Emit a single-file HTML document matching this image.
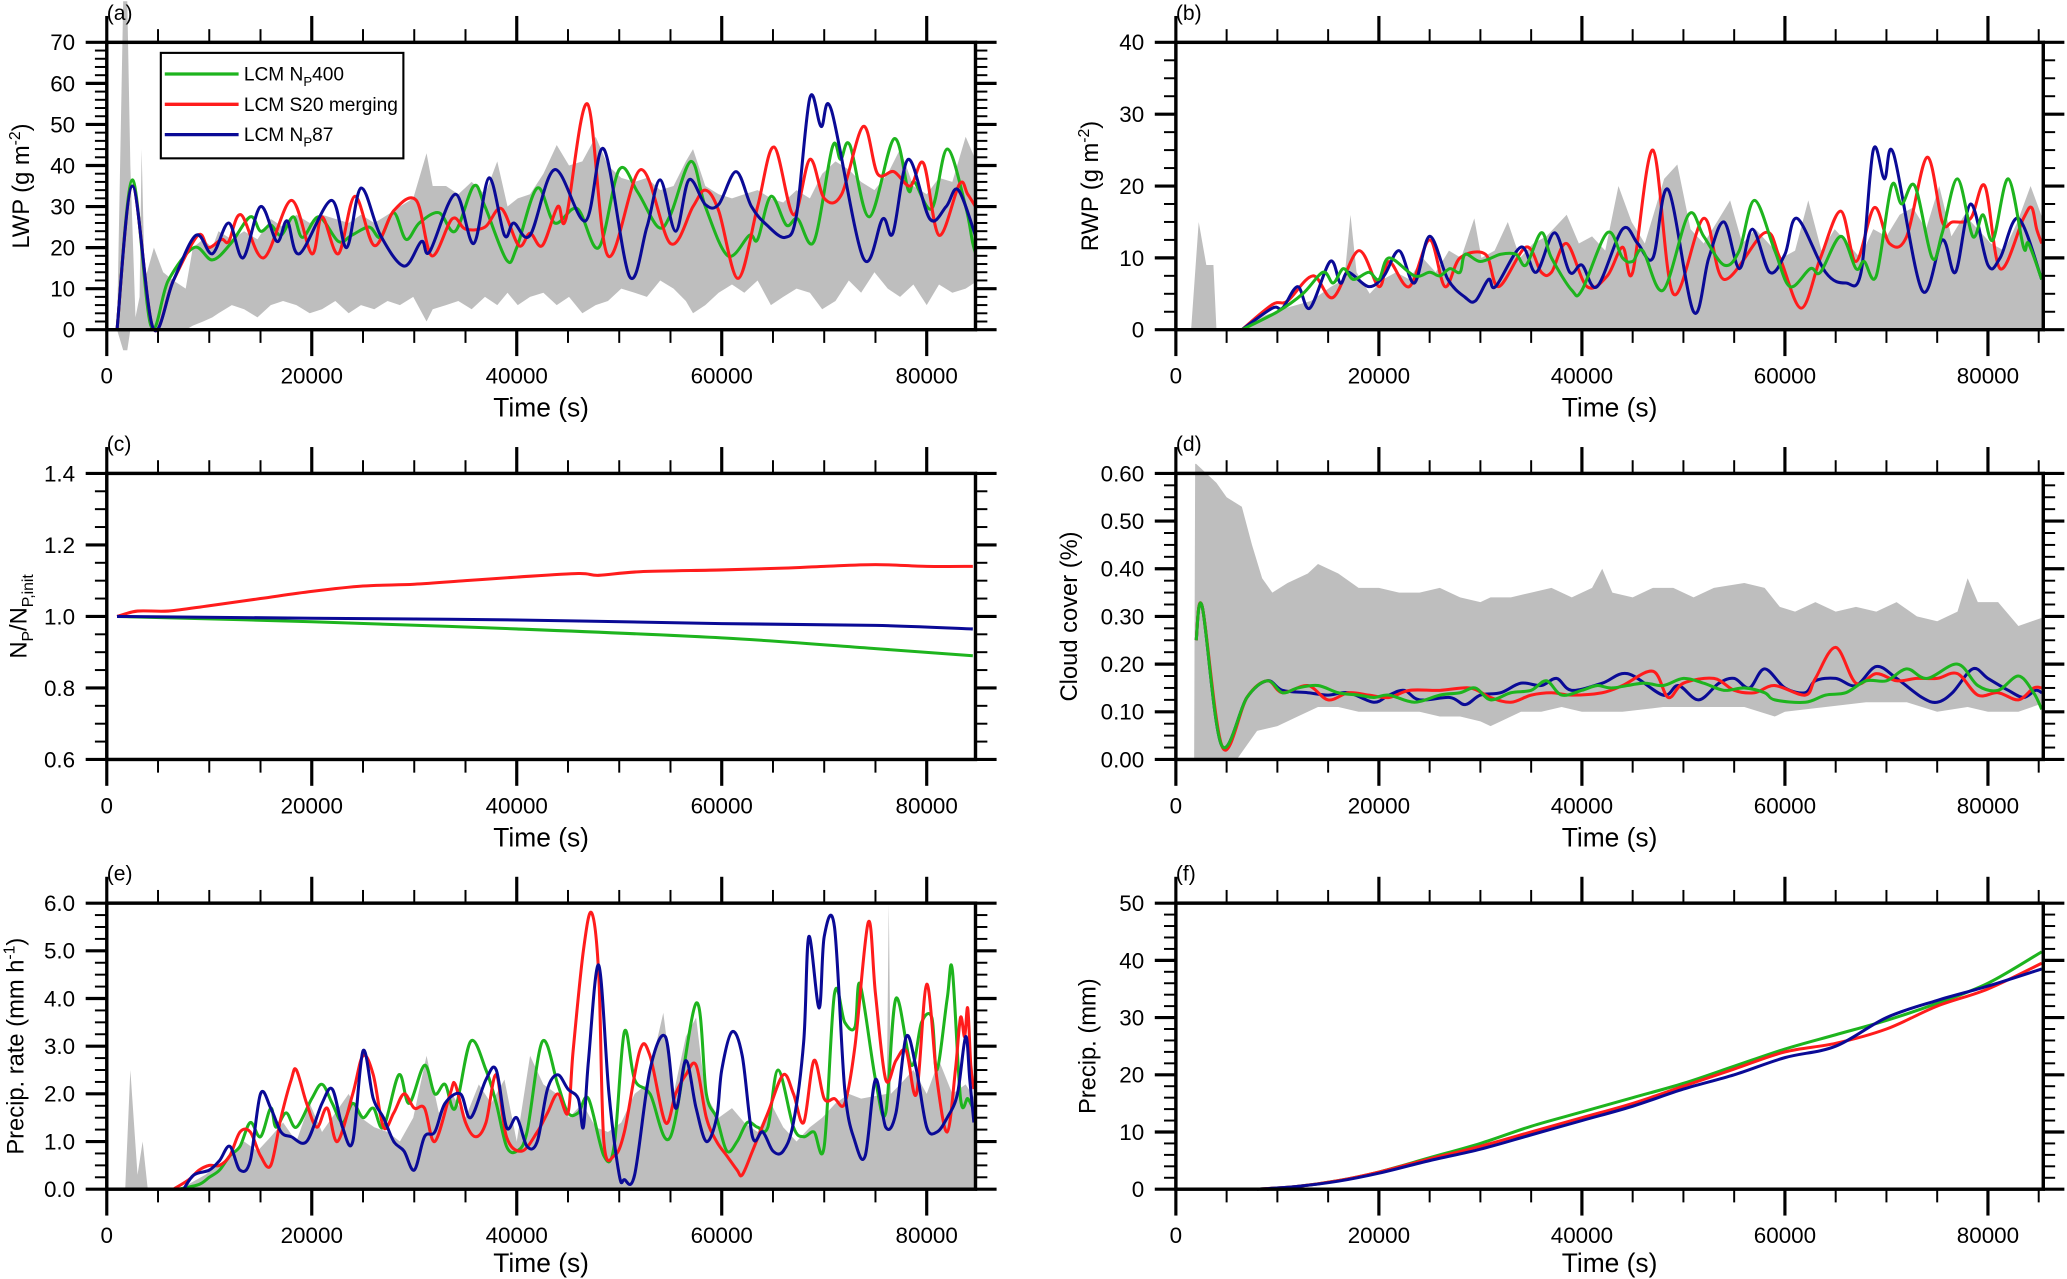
<!DOCTYPE html>
<html><head><meta charset="utf-8"><style>
html,body{margin:0;padding:0;background:#fff;}
svg{display:block;font-family:"Liberation Sans",sans-serif;}
</style></head><body>
<svg id="fig" width="2067" height="1279" viewBox="0 0 1568 970" xmlns="http://www.w3.org/2000/svg"></svg>
<script>
// ===== data (time in thousands of seconds) =====
const xTickVals = [0,20,40,60,80];
const xTickLabels = ["0","20000","40000","60000","80000"];
const ticksA = ["0","10","20","30","40","50","60","70"];
const ticksB = ["0","10","20","30","40"];
const ticksC = ["0.6","0.8","1.0","1.2","1.4"];
const ticksD = ["0.00","0.10","0.20","0.30","0.40","0.50","0.60"];
const ticksE = ["0.0","1.0","2.0","3.0","4.0","5.0","6.0"];
const ticksF = ["0","10","20","30","40","50"];

const lwpGreen = [[1.0,0],[2.5,36.5],[4.3,1],[6,12],[8.5,20],[10.3,17],[12.1,21],[14.0,27.5],[15.0,24],[16.0,25.5],[17.0,23],[18.2,27.5],[19.1,22.5],[20.7,27.5],[22.6,21.5],[23.9,23],[25.6,25],[26.7,22.5],[28.0,28.5],[29.2,22],[30.5,26],[32.4,28.5],[34.0,24],[35.8,35],[36.9,30],[39.0,17],[40.0,20],[42.0,34.5],[43.7,26],[45.9,29.5],[48.0,20],[50.0,39],[51.8,33.5],[53.8,25],[55.0,28],[57.0,41],[58.4,30],[60.6,18],[62.7,23],[63.5,22],[64.8,32.5],[66.3,25.5],[67.4,27],[69.0,21.5],[70.8,44.5],[71.6,41.5],[72.5,45],[74.4,27.5],[76.8,46.5],[78.2,34],[78.8,36],[80.5,29.5],[82.0,44],[83.8,30],[84.5,21],[85.0,17]];
const lwpRed = [[1.0,0],[2.5,35],[4.5,0.5],[6.5,12],[8.9,23],[9.9,20],[11.2,22],[11.9,21.5],[13.1,28],[15.3,17.5],[18.0,31.5],[20.0,18.5],[21.0,27.5],[22.6,18.5],[24.2,32.5],[26.1,20.5],[28.0,29],[30.2,31.5],[31.7,18],[33.7,27],[35.0,24.5],[36.9,25],[38.5,29.5],[40.2,20.5],[41.3,23.5],[42.5,20.5],[44.0,30],[44.8,27],[46.9,55],[48.9,18],[52.1,39],[55.0,21],[57.2,30],[58.4,34],[59.7,29],[61.6,12.5],[63.5,30],[65.1,44.5],[67.0,28],[68.6,41.5],[70.0,32],[71.7,33],[73.8,49.5],[75.2,38],[76.8,38.5],[78.4,35],[79.7,40.5],[81.2,23],[83.2,35.5],[84.0,33],[85.0,29]];
const lwpBlue = [[1.0,0],[2.5,35],[4.5,0.5],[6.5,12],[8.7,23],[10.3,18.5],[11.9,26],[13.3,17.5],[15.0,30],[16.6,21.5],[17.6,26.5],[18.8,18.5],[21.9,31.5],[23.4,20],[24.8,34.5],[26.7,23],[29.0,15.5],[30.7,21.5],[31.5,19],[34.0,33],[35.8,21],[37.3,37],[38.8,23],[39.7,26],[41.3,23],[43.7,39],[46.7,26.5],[48.5,44],[51.0,13],[52.7,25],[54.0,36.5],[55.5,24],[56.8,36.5],[58.4,30.5],[59.7,30.5],[61.4,38.5],[62.9,30],[64.4,25.5],[66.2,22.5],[67.3,28],[68.6,56.5],[69.7,49.5],[70.7,53.5],[73.8,17.5],[75.7,27],[76.7,23.5],[78.2,41.5],[80.3,27],[81.9,30],[83.1,34],[85.0,21]];
const lwpEnvT = [1.0,1.6,2.0,2.3,2.8,3.2,3.4,3.7,4.6,5.5,6.5,7.7,8.4,9.4,10.3,10.9,12.2,13.4,14.7,16.0,17.2,18.5,19.8,21.0,22.3,23.6,24.8,26.1,27.4,28.6,29.9,31.2,31.8,33.1,34.3,35.6,36.9,38.1,39.1,40.1,41.3,42.6,43.9,45.1,46.4,47.7,48.9,50.2,51.5,52.7,54.0,55.3,56.5,57.2,58.4,59.7,61.0,62.2,63.5,64.8,66.0,67.3,68.6,69.8,71.1,72.4,73.6,74.9,76.2,77.4,78.7,80.0,81.2,82.5,83.8,85.0,85.7];
const lwpEnvHi = [0,80,80,40,3,8,44,12,20,14,12,10,20,22,20,24,22,24,22,27,25,28,26,28,27,26,28,26,28,30,32,43,35,35,33,36,33,41,30,32,33,38,45,40,41,47,40,37,36,37,34,35,41,44,35,33,32,33,34,32,31,34,32,38,41,39,36,34,38,44,35,33,37,36,47,40,34];
const lwpEnvLo = [0,-5,-5,0,0,0,0,0,0,0,0,0,1,2,3,4,6,5,3,6,7,6,4,5,7,4,6,5,7,6,8,2,5,6,7,5,8,6,9,6,8,9,6,8,4,6,7,10,9,8,12,10,7,4,6,9,11,9,12,6,8,10,9,5,7,12,9,14,10,8,11,6,11,9,10,12,14];

const rwpGreen = [[6.5,0],[10,2.5],[12.5,5],[14.5,8],[15.5,6.5],[16.5,8.5],[17.5,7],[19,8],[20,7],[21,10],[23.5,7.5],[25,8],[26,7.5],[27,8.5],[28,8],[28.5,10.5],[30,9.5],[32,10.5],[33.5,10.5],[34.5,9],[36,13.5],[37,10],[39,5.5],[40,5.5],[42.5,13.5],[44,10],[45,9.5],[46,11],[48,5.5],[50.5,16],[52,13],[54,9],[55.5,11],[57,18],[59,11],[60.5,6],[62.5,8.5],[63.5,8],[65.5,13],[67,8.5],[67.8,9.5],[69,7.5],[70.5,20],[71.5,17.5],[72.8,20],[74.5,10],[75.5,13.5],[77,21],[78.5,13],[79.5,16],[80.5,12.5],[82,21],[83.5,11.5],[84,12],[85.3,7]];
const rwpRed = [[6.5,0],[9.5,3.5],[11,4],[13.5,7.5],[15.5,4.5],[18,11],[20,6],[21,9.5],[23,6],[25,12.5],[26.5,6],[28,10],[30.5,10.5],[31.8,6],[34.5,11.5],[36,8],[37,8],[38.5,12],[40.5,6],[42.5,7.5],[44,11.5],[45,8],[47,25],[49,5],[52,15.5],[54,7],[58,13.5],[59.5,10],[61.6,3],[63.5,10],[65.5,16.5],[67,9.5],[68.8,17],[70.3,12],[72,13],[74,24],[75.5,15],[76.5,15],[78.3,15.5],[79.7,20],[81.2,8.5],[83.5,15.5],[84.3,17],[84.8,14],[85.3,12]];
const rwpBlue = [[6.5,0],[9.5,3],[10.5,3],[12,6],[13.2,3],[15.2,9.5],[16.2,6.5],[17,8],[19,6],[20.5,7.5],[22,11],[23.5,6.5],[25,13],[26.8,7],[28.5,4.5],[29.5,4],[30.8,7],[31.5,6],[34,11.5],[35.5,8],[37.3,13.5],[38.8,8],[40,9],[41.5,6],[44,14],[45.5,12],[47,10],[48.5,19.5],[51,2.5],[52.5,10],[54,15],[55.5,8.5],[56.8,14],[58.5,8],[60,10.5],[61.2,15.5],[64,8],[66,6.5],[67.5,8],[68.7,25],[69.8,21],[70.7,24.5],[73.5,5.5],[75.5,12.5],[76.8,8],[78.3,17.5],[80,9],[81.2,10],[83,15.5],[85.3,7]];
const rwpEnvT = [1.5,2.25,3.0,3.7,4.0,6.2,8.8,10.8,13.3,15.3,16.6,17.2,17.8,19.1,20.4,21.7,23.0,24.3,25.6,26.9,28.1,29.4,30.1,31.4,32.7,33.9,35.2,36.5,38.5,39.7,41.0,42.3,43.6,44.9,46.2,48.1,49.4,50.7,52.0,53.3,54.6,55.8,57.1,58.4,59.7,61.0,62.3,63.6,64.9,66.2,67.4,68.7,70.0,71.3,72.6,73.9,75.2,76.4,77.7,79.0,80.3,81.6,82.9,84.2,85.5,85.7];
const rwpEnvHi = [0,15,9,9,0,0,2,3,4,6,7,16,8,5,7,8,7,10,8,11,10,15.5,10,11,15,10,12,13,16,12,13,11,20,15,12,21,23,14,12,15,18,12,14,12,10,11,18,11,14,12,10,14,13,16,17,14,20,13,16,14,12,11,15,20,15,15];
const rwpEnvLoT = [1.5,85.7];
const rwpEnvLo = [0,0];

const npRed = [[1,1.0],[3,1.015],[6,1.015],[10,1.03],[15,1.05],[20,1.07],[25,1.085],[30,1.09],[35,1.1],[40,1.11],[46,1.12],[48,1.115],[52,1.125],[60,1.13],[66,1.135],[70,1.14],[75,1.145],[80,1.14],[84.5,1.14]];
const npGreen = [[1,1.0],[20,0.985],[40,0.965],[60,0.94],[75,0.91],[84.5,0.89]];
const npBlue = [[1,1.0],[20,0.995],[40,0.99],[60,0.98],[75,0.975],[84.5,0.965]];

const ccGreen = [[2.0,0.25],[2.6,0.32],[4.5,0.03],[7,0.13],[9,0.165],[10.5,0.14],[12,0.15],[14,0.155],[16,0.14],[18,0.135],[19.5,0.13],[21,0.135],[23.5,0.12],[26,0.135],[28,0.14],[29.5,0.15],[31,0.125],[33,0.14],[35,0.145],[36.5,0.165],[38,0.135],[40,0.145],[41.5,0.155],[43,0.15],[46,0.16],[48,0.155],[50,0.17],[52,0.16],[54,0.145],[56,0.15],[58,0.14],[59,0.125],[62,0.12],[64,0.135],[66,0.14],[68,0.165],[70,0.165],[72,0.19],[74,0.17],[77,0.2],[79,0.155],[81,0.145],[83,0.175],[84.5,0.14],[85.3,0.105]];
const ccRed = [[2,0.25],[2.6,0.32],[4.6,0.025],[7,0.13],[9,0.165],[10.5,0.14],[13,0.155],[15,0.125],[17,0.14],[19,0.135],[21,0.13],[23,0.145],[26,0.145],[29,0.15],[31,0.13],[33,0.12],[35,0.135],[37,0.14],[39,0.135],[42,0.14],[44,0.155],[47,0.185],[48.5,0.13],[50,0.16],[53,0.17],[55,0.145],[57,0.14],[59,0.155],[62,0.135],[63,0.17],[65,0.235],[67,0.16],[69,0.18],[71,0.165],[73,0.17],[75,0.17],[77,0.18],[79,0.135],[81,0.14],[83,0.125],[84.5,0.15],[85.3,0.15]];
const ccBlue = [[2,0.25],[2.6,0.32],[4.5,0.03],[7,0.13],[9,0.165],[10.5,0.145],[13,0.14],[15,0.135],[17,0.14],[19.5,0.12],[21,0.135],[22.5,0.145],[24,0.125],[27,0.13],[28.5,0.115],[30,0.135],[32,0.14],[34,0.16],[36,0.155],[37.5,0.17],[39,0.145],[42,0.16],[44.5,0.18],[48,0.135],[49.5,0.155],[51.5,0.125],[53.5,0.16],[55,0.17],[56.5,0.15],[58,0.19],[60,0.15],[62,0.14],[63,0.165],[65,0.17],[67,0.155],[69,0.195],[71,0.17],[73.5,0.13],[75,0.12],[76.5,0.14],[78.5,0.19],[80,0.17],[82,0.145],[83.5,0.13],[84.7,0.145],[85.3,0.14]];
const ccEnvHiT = [1.8,1.9,2,3,4,5,6.5,7.5,8.5,9.5,11,13,14,16,18,20,22,24,26,28,30,31,33,35,37,39,41,42,43,45,47,49,51,53,56,58,59.5,61,63,65,67,69,71,73,75,77,78,79,81,83,85.7];
const ccEnvHi = [0,0.62,0.62,0.6,0.58,0.55,0.53,0.45,0.38,0.35,0.37,0.39,0.41,0.39,0.36,0.36,0.35,0.35,0.36,0.34,0.33,0.34,0.34,0.35,0.36,0.34,0.36,0.4,0.35,0.34,0.36,0.36,0.34,0.36,0.37,0.36,0.32,0.31,0.33,0.31,0.32,0.31,0.33,0.3,0.29,0.31,0.38,0.33,0.33,0.28,0.3];
const ccEnvLoT = [1.8,4,6,7,8,10,12,14,16,18,20,22,24,26,28,30,31,32,34,36,38,40,44,48,52,56,59,60,64,68,72,75,78,80,83,85.7];
const ccEnvLo = [0,0,0,0.03,0.06,0.07,0.09,0.11,0.11,0.1,0.1,0.1,0.1,0.09,0.09,0.08,0.07,0.08,0.1,0.1,0.11,0.1,0.1,0.11,0.11,0.11,0.09,0.1,0.11,0.12,0.12,0.1,0.11,0.1,0.1,0.12];

const prGreen = [[7,0],[9,0.1],[10,0.25],[11,0.4],[12,0.7],[13,0.9],[14,1.4],[15,1.1],[16,1.7],[16.5,1.3],[17.5,1.6],[18.5,1.3],[20,1.9],[21,2.2],[22,1.8],[23,1.4],[24,1.8],[25,1.5],[26,1.7],[27,1.3],[28.5,2.4],[29.5,1.8],[31,2.6],[32,2.0],[33,2.2],[34,1.7],[35.5,3.1],[37,2.5],[38,1.8],[39,0.9],[40,0.8],[41,1.2],[42.5,3.1],[44,2.2],[45,1.6],[46,1.6],[47,1.9],[48.5,0.7],[49.5,0.9],[50.5,3.3],[51.5,2.3],[53,2.0],[55,1.1],[57.5,3.9],[58.5,2.0],[59.5,1.5],[60.5,0.8],[61.5,1.0],[62.5,1.4],[63.5,1.3],[64.5,1.3],[65.5,2.5],[67,1.3],[68,1.1],[69,1.2],[70,0.9],[71,4.1],[72,3.5],[73,3.4],[73.5,4.3],[75,2.3],[76,1.6],[77,4.0],[78.5,2.6],[79.5,3.5],[80.5,3.6],[81,2.5],[82,4.0],[82.5,4.6],[83.3,1.9],[84,1.9],[84.5,1.7]];
const prRed = [[6.5,0],[8,0.2],[9,0.4],[10,0.5],[11,0.5],[12,0.7],[13,1.2],[14,1.2],[15,0.7],[16,0.5],[17,1.5],[18,2.3],[18.5,2.5],[19.5,1.8],[20.5,1.3],[21.5,1.7],[22.5,1.0],[24,2.0],[25,2.8],[26,2.4],[27,1.3],[28,1.6],[29,2.0],[30,1.7],[31,1.7],[32,1.0],[33.5,2.0],[34,2.2],[35,1.4],[36,1.1],[37,1.4],[38,2.4],[39,1.1],[40.5,0.8],[42,1.2],[43,1.6],[44,2.0],[45,1.6],[45.5,2.9],[46.5,5.0],[47.3,5.8],[48,4.5],[48.5,1.0],[49.5,0.7],[50.5,1.2],[52,2.9],[53,2.8],[54.5,1.4],[55.5,2.0],[56.5,2.4],[57.5,2.6],[58.5,1.5],[59.5,1.0],[60.5,0.7],[61.5,0.4],[62,0.3],[63,0.8],[64.5,1.6],[66,2.4],[67,2.0],[68,1.4],[69,2.7],[70,1.9],[71,1.9],[72,1.8],[73,3.0],[74.3,5.6],[75,4.1],[76,2.3],[77,2.7],[78,2.9],[79,2.0],[80,4.3],[81,2.3],[82,1.2],[82.8,2.5],[83.3,3.6],[83.7,3.2],[84.0,3.8],[84.3,2.6],[84.6,2.1]];
const prBlue = [[7.5,0],[8.5,0.3],[10,0.4],[11,0.6],[12,0.9],[13,0.4],[14,0.6],[15,2.0],[16,1.7],[17,1.2],[18,1.1],[19.5,1.0],[21,1.8],[22,2.1],[23,1.3],[24,1.0],[25,2.9],[26,1.9],[27,1.5],[28,1.0],[29,0.8],[30,0.4],[31,1.1],[32,1.2],[33,1.8],[34.5,2.0],[35.5,1.5],[37,2.3],[38,2.5],[39,1.3],[40,1.5],[41,0.9],[42,1.0],[43,2.1],[44,2.4],[45,2.1],[46,1.9],[46.5,1.3],[47,2.7],[48,4.7],[49,2.0],[50,0.3],[50.5,0.2],[51.5,0.3],[53,2.5],[54.5,3.2],[55.5,1.7],[56.5,2.7],[57.5,1.7],[58.5,1.0],[59.5,1.5],[60,2.5],[61,3.3],[62,2.8],[63,1.1],[64,1.2],[65,0.8],[66,0.8],[67,1.4],[68,3.1],[68.5,5.3],[69.5,3.8],[70,5.3],[71,5.5],[72,2.1],[73,1.0],[74,0.7],[75,2.3],[76,1.3],[77,1.6],[78,3.2],[79,2.5],[80,1.3],[81,1.2],[82,1.5],[83,2.0],[83.8,3.2],[84.2,2.3],[84.6,1.4]];
const prEnvT = [1.8,2.3,3.0,3.5,4.0,7.1,9.6,11.5,13.4,14.7,16.0,17.2,18.5,19.8,21.0,22.3,23.6,24.8,26.1,27.4,28.6,29.9,31.2,32.4,33.7,35.0,36.3,37.5,38.8,40.0,41.3,42.6,43.9,45.1,46.4,47.7,48.9,50.2,51.5,52.7,54.3,55.3,56.5,57.5,58.4,59.7,61.0,62.2,63.5,64.8,66.0,67.3,68.6,69.8,71.1,72.4,73.6,76.1,76.3,76.5,77.4,78.7,80.0,81.2,82.5,83.8,85.0,85.7];
const prEnvHi = [0,2.5,0.3,1.0,0,0,0.3,0.6,1.0,0.8,1.1,1.4,1.0,1.8,1.2,1.6,2.0,1.5,1.3,1.2,1.0,1.5,2.8,1.6,2.0,1.5,2.2,1.8,2.3,1.0,2.8,2.2,2.0,1.5,1.8,1.3,1.2,1.4,2.0,2.2,3.7,2.0,3.2,3.6,2.0,1.5,1.7,1.4,1.2,1.8,1.3,1.0,1.3,1.5,1.8,2.0,1.9,2.0,6.0,2.0,2.2,2.5,2.0,2.7,2.0,2.2,1.8,1.6];
const prEnvLoT = [1.8,85.7];
const prEnvLo = [0,0];

const accGreen = [[8,0],[12,0.5],[16,1.5],[20,3],[25,5.5],[30,8],[35,11],[40,13.5],[45,16],[50,18.5],[55,21.5],[60,24.5],[65,27],[70,29.5],[75,32.5],[80,36],[85.3,41.5]];
const accRed = [[8,0],[12,0.5],[16,1.5],[20,3],[25,5.3],[30,7.5],[35,10],[40,12.5],[45,15],[50,18],[55,21],[60,24],[65,25.5],[70,28],[75,32],[80,35],[85.3,39.5]];
const accBlue = [[8,0],[12,0.5],[16,1.4],[20,2.8],[25,5],[30,7],[35,9.5],[40,12],[45,14.5],[50,17.5],[55,20],[60,23],[65,25],[70,30],[75,33],[80,35.5],[85.3,38.5]];

// ===== rendering =====
const NS = "http://www.w3.org/2000/svg";
const svg = document.getElementById('fig');
const GREEN = "#1eb41e", RED = "#ff1c1c", BLUE = "#0a0a96", GRAY = "#bebebe";

function mk(tag, attrs, parent){
  const e = document.createElementNS(NS, tag);
  for (const k in attrs) e.setAttribute(k, attrs[k]);
  (parent||svg).appendChild(e);
  return e;
}
function sx(p,t){ return p.x0 + t/p.xmax*(p.x1-p.x0); }
function sy(p,v){ return p.y1 - (v-p.ymin)/(p.ymax-p.ymin)*(p.y1-p.y0); }

function smoothPath(p, pts){
  const P = pts.map(q=>[sx(p,q[0]), sy(p,q[1])]);
  let d = "M" + P[0][0].toFixed(2) + "," + P[0][1].toFixed(2);
  for (let i=0;i<P.length-1;i++){
    const p0 = P[Math.max(0,i-1)], p1 = P[i], p2 = P[i+1], p3 = P[Math.min(P.length-1,i+2)];
    const c1x = p1[0]+(p2[0]-p0[0])/6, c1y = p1[1]+(p2[1]-p0[1])/6;
    const c2x = p2[0]-(p3[0]-p1[0])/6, c2y = p2[1]-(p3[1]-p1[1])/6;
    d += "C"+c1x.toFixed(2)+","+c1y.toFixed(2)+" "+c2x.toFixed(2)+","+c2y.toFixed(2)+" "+p2[0].toFixed(2)+","+p2[1].toFixed(2);
  }
  return d;
}
function envPath(p, tHi, vHi, tLo, vLo){
  let d = "";
  for (let i=0;i<tHi.length;i++) d += (i?"L":"M") + sx(p,tHi[i]).toFixed(2)+","+sy(p,vHi[i]).toFixed(2);
  for (let i=tLo.length-1;i>=0;i--) d += "L" + sx(p,tLo[i]).toFixed(2)+","+sy(p,vLo[i]).toFixed(2);
  return d+"Z";
}

const defs = mk('defs', {});

function drawPanel(p){
  const g = mk('g', {});
  
  
  const cp = mk('clipPath', {id:'clip-'+p.id}, defs);
  mk('rect', {x:p.x0, y:0, width:p.x1-p.x0, height:970}, cp);
  const dg = mk('g', {'clip-path':'url(#clip-'+p.id+')'}, g);
  if (p.env){
    const e = mk('path', {d: envPath(p, p.env[0], p.env[1], p.env[2], p.env[3]), fill: GRAY, stroke: "none"}, dg);
    
    
  }
  const names = ['np400','s20-merging','np87'];
  const cols = [GREEN, RED, BLUE];
  p.order.forEach(k=>{
    const l = mk('path', {d: smoothPath(p, p.series[k]), fill:"none", stroke: cols[k], 'stroke-width': 2.3, 'stroke-linejoin':'round'}, dg);
    
    
  });
  const fr = mk('rect', {x:p.x0, y:p.y0, width:p.x1-p.x0, height:p.y1-p.y0, fill:"none", stroke:"#000", 'stroke-width':2.6}, g);
  
  
  for (let t=0; t<=p.xmax+1e-6; t+=5){
    const major = (Math.round(t)%20===0);
    const x = sx(p,t), L = major?20:10, w = major?2.4:1.5;
    mk('line', {x1:x, y1:p.y1, x2:x, y2:p.y1+L, stroke:"#000", 'stroke-width':w}, g);
    mk('line', {x1:x, y1:p.y0, x2:x, y2:p.y0-L, stroke:"#000", 'stroke-width':w}, g);
  }
  xTickVals.forEach((v,i)=>{
    const t = mk('text', {x:sx(p,v), y:p.y1+41, 'text-anchor':'middle', 'font-size':17}, g);
    t.textContent = xTickLabels[i];
    
    
  });
  const nMin = Math.round((p.ymax-p.ymin)/p.yMin);
  const per = Math.round(p.yMaj/p.yMin);
  for (let i=0;i<=nMin;i++){
    const v = p.ymin + i*p.yMin, y = sy(p,v);
    const major = (i%per===0), L = major?16:9, w = major?2.4:1.5;
    mk('line', {x1:p.x0, y1:y, x2:p.x0-L, y2:y, stroke:"#000", 'stroke-width':w}, g);
    mk('line', {x1:p.x1, y1:y, x2:p.x1+L, y2:y, stroke:"#000", 'stroke-width':w}, g);
  }
  p.labels.forEach((s,i)=>{
    const t = mk('text', {x:p.x0-24, y:sy(p,p.ymin+i*p.yMaj)+6, 'text-anchor':'end', 'font-size':17}, g);
    t.textContent = s;
    
    
  });
  const pl = mk('text', {x:p.x0, y:p.y0-17, 'font-size':16}, g);
  pl.textContent = '('+p.id+')';
  
  
  const xt = mk('text', {x:(p.x0+p.x1)/2, y:p.y1+p.xtOff, 'text-anchor':'middle', 'font-size':20}, g);
  xt.textContent = 'Time (s)';
  
  
  const cy = (p.y0+p.y1)/2;
  const yt = mk('text', {x:p.ytx, y:cy, 'text-anchor':'middle', 'font-size':18, transform:'rotate(-90 '+p.ytx+' '+cy+')'}, g);
  
  
  yt.innerHTML = p.ytitle;
}

const L = {x0:81, x1:740, xmax:84.76}, R = {x0:892, x1:1550, xmax:85.45};
const rows = [{y0:32,y1:250,xtOff:66},{y0:359,y1:576,xtOff:66},{y0:685,y1:902,xtOff:63}];
const panels = [
  Object.assign({id:'a', ymin:0, ymax:70, yMaj:10, yMin:2, labels:ticksA, ytx:22,
    ytitle:'LWP (g m<tspan dy="-7" font-size="12">-2</tspan><tspan dy="7">)</tspan>',
    env:[lwpEnvT, lwpEnvHi, lwpEnvT, lwpEnvLo], series:[lwpGreen,lwpRed,lwpBlue], order:[0,1,2]}, L, rows[0]),
  Object.assign({id:'b', ymin:0, ymax:40, yMaj:10, yMin:2.5, labels:ticksB, ytx:833,
    ytitle:'RWP (g m<tspan dy="-7" font-size="12">-2</tspan><tspan dy="7">)</tspan>',
    env:[rwpEnvT, rwpEnvHi, rwpEnvLoT, rwpEnvLo], series:[rwpGreen,rwpRed,rwpBlue], order:[1,2,0]}, R, rows[0]),
  Object.assign({id:'c', ymin:0.6, ymax:1.4, yMaj:0.2, yMin:0.05, labels:ticksC, ytx:20,
    ytitle:'N<tspan dy="5" font-size="12">P</tspan><tspan dy="-5">/N</tspan><tspan dy="5" font-size="12">P,init</tspan>',
    env:null, series:[npGreen,npRed,npBlue], order:[0,1,2]}, L, rows[1]),
  Object.assign({id:'d', ymin:0, ymax:0.6, yMaj:0.1, yMin:0.025, labels:ticksD, ytx:817,
    ytitle:'Cloud cover (%)',
    env:[ccEnvHiT, ccEnvHi, ccEnvLoT, ccEnvLo], series:[ccGreen,ccRed,ccBlue], order:[2,1,0]}, R, rows[1]),
  Object.assign({id:'e', ymin:0, ymax:6, yMaj:1, yMin:0.25, labels:ticksE, ytx:18,
    ytitle:'Precip. rate (mm h<tspan dy="-7" font-size="12">-1</tspan><tspan dy="7">)</tspan>',
    env:[prEnvT, prEnvHi, prEnvLoT, prEnvLo], series:[prGreen,prRed,prBlue], order:[0,1,2]}, L, rows[2]),
  Object.assign({id:'f', ymin:0, ymax:50, yMaj:10, yMin:2, labels:ticksF, ytx:831,
    ytitle:'Precip. (mm)',
    env:null, series:[accGreen,accRed,accBlue], order:[0,1,2]}, R, rows[2])
];
panels.forEach(drawPanel);

const lg = mk('g', {});


mk('rect', {x:122, y:40, width:184, height:80, fill:'#fff', stroke:'#000', 'stroke-width':1.6}, lg);
const legTexts = ['LCM N<tspan dy="4" font-size="10">P</tspan><tspan dy="-4">400</tspan>', 'LCM S20 merging', 'LCM N<tspan dy="4" font-size="10">P</tspan><tspan dy="-4">87</tspan>'];
const legCols = [GREEN, RED, BLUE];
for (let i=0;i<3;i++){
  const y = 56 + i*23;
  const ln = mk('line', {x1:125, y1:y, x2:181, y2:y, stroke:legCols[i], 'stroke-width':2.5}, lg);
  
  
  const tx = mk('text', {x:185, y:y+5, 'font-size':14.5}, lg);
  tx.innerHTML = legTexts[i];
  
  
}
</script>
</body></html>
